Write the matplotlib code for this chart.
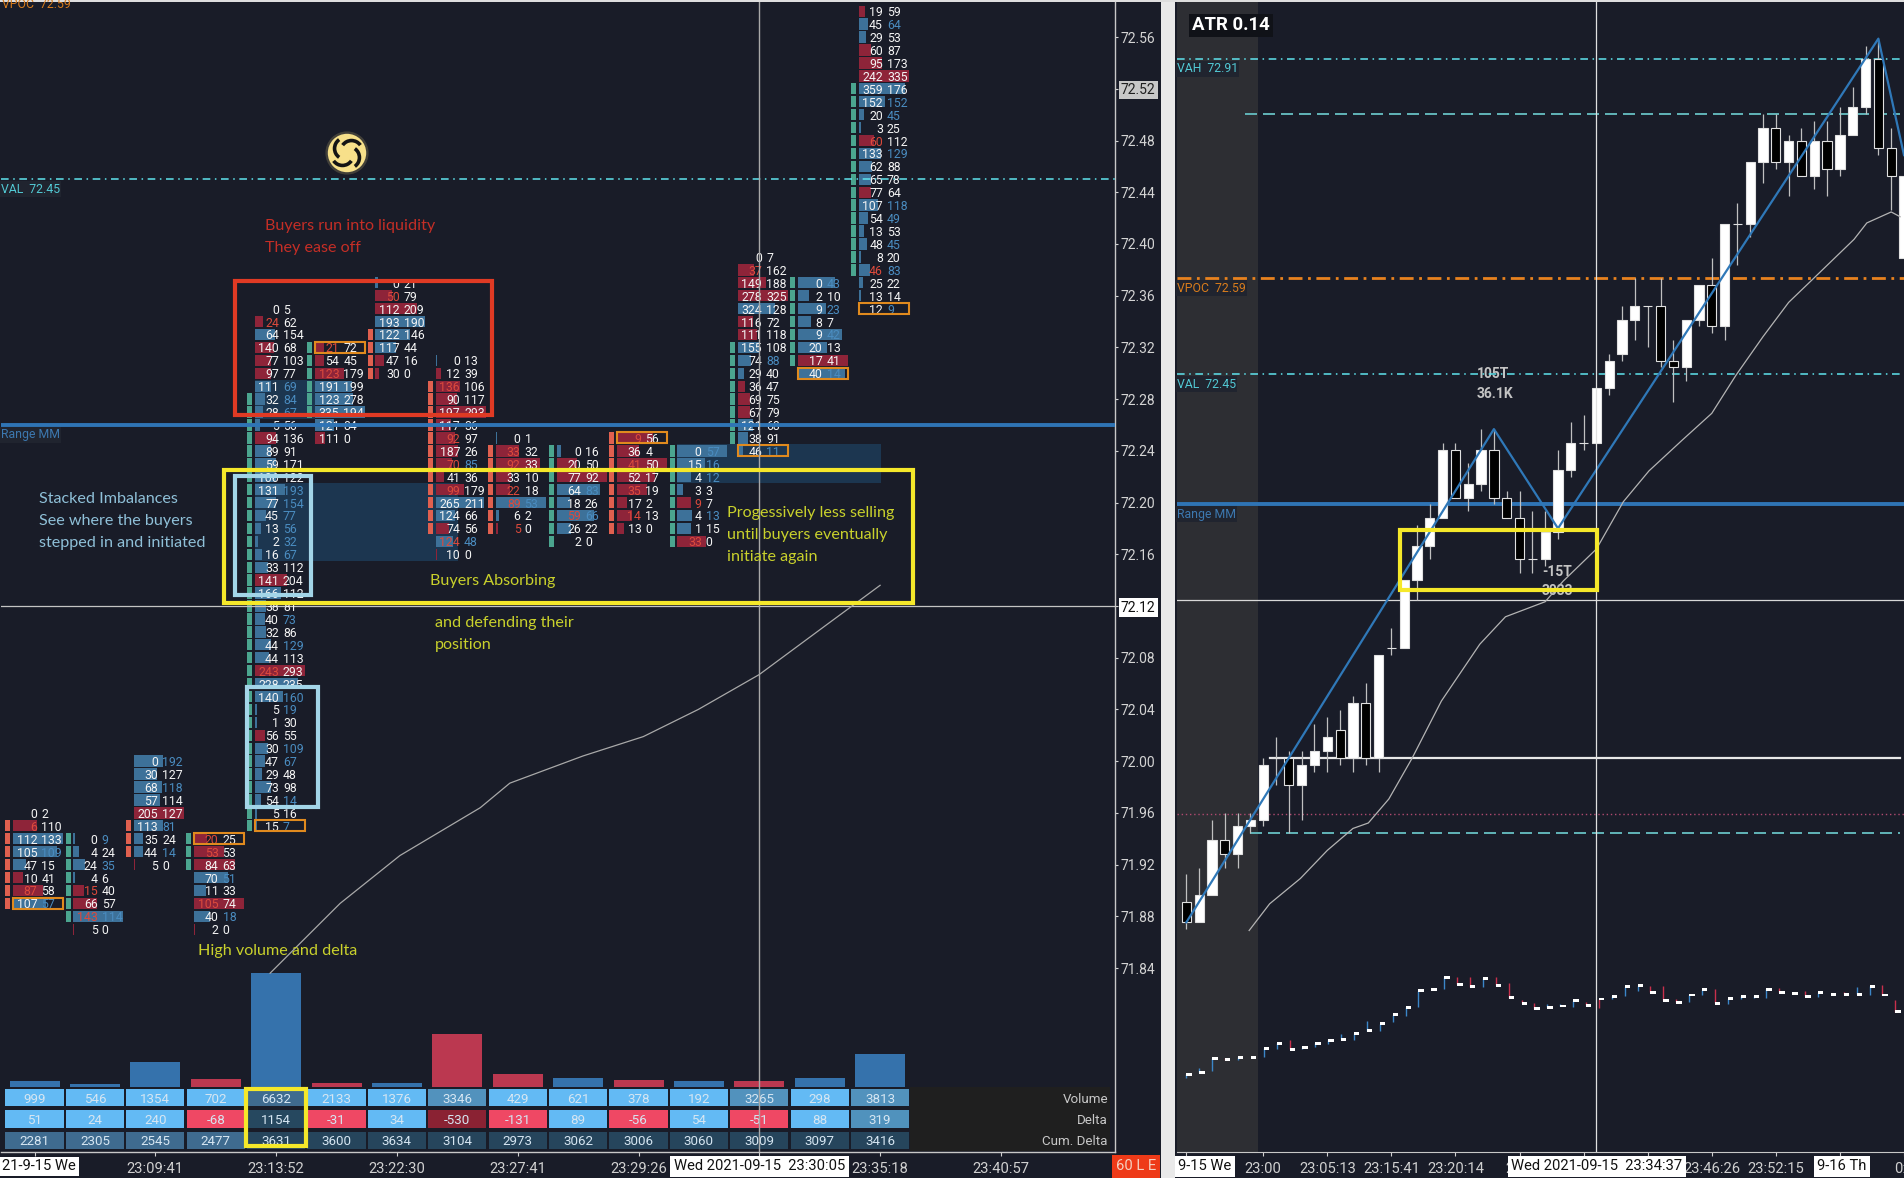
import matplotlib
matplotlib.use("Agg")
import matplotlib.pyplot as plt
from matplotlib.patches import Rectangle, Circle, Arc
from matplotlib.transforms import Affine2D
import math

W, H = 1904, 1178
BG = "#191c28"
BLUE = "#3d7199"
RED = "#8e2439"
TEAL = "#4ba58f"
SALMON = "#e0604f"
YELLOW = "#f5e82a"
NOTE = "#c9d12c"
ORANGE = "#e08a1e"
LIGHT = "#a3d5e8"
CYAN = "#5fe4ee"

# ---- footprint columns (left panel), rows go down one tick from col_top
col_top = [71.96, 71.94, 72.00, 71.94, 72.35, 72.32, 72.37, 72.31, 72.25, 72.24, 72.25, 72.24, 72.39, 72.37, 72.58]
col_bid = [
    [0, 6, 112, 105, 47, 10, 87, 107],
    [0, 4, 24, 4, 15, 66, 143, 5],
    [0, 30, 68, 57, 205, 113, 35, 44, 5],
    [20, 53, 84, 70, 11, 105, 40, 2],
    [0, 24, 64, 140, 77, 97, 111, 32, 28, 5, 94, 89, 59, 106, 131, 77, 45, 13, 2, 16, 33, 141, 166, 38,
     40, 32, 44, 44, 243, 228, 140, 5, 1, 56, 30, 47, 29, 73, 54, 5, 15],
    [21, 54, 123, 191, 123, 335, 121, 111],
    [0, 50, 112, 193, 122, 117, 47, 30],
    [0, 12, 136, 90, 197, 117, 92, 187, 70, 41, 99, 265, 124, 74, 124, 10],
    [0, 33, 92, 33, 22, 89, 6, 5],
    [0, 20, 77, 64, 18, 59, 26, 2],
    [9, 36, 41, 52, 35, 17, 14, 13],
    [0, 15, 4, 3, 9, 4, 1, 33],
    [0, 37, 149, 278, 324, 116, 111, 155, 74, 29, 36, 69, 67, 121, 38, 46],
    [0, 2, 9, 8, 9, 20, 17, 40],
    [19, 45, 29, 60, 95, 242, 359, 152, 20, 3, 60, 133, 62, 65, 77, 107, 54, 13, 48, 8, 46, 25, 13, 12],
]
col_ask = [
    [2, 110, 133, 109, 15, 41, 58, 57],
    [9, 24, 35, 6, 40, 57, 114, 0],
    [192, 127, 118, 114, 127, 81, 24, 14, 0],
    [25, 53, 63, 51, 33, 74, 18, 0],
    [5, 62, 154, 68, 103, 77, 69, 84, 67, 56, 136, 91, 171, 122, 193, 154, 77, 56, 32, 67, 112, 204, 112, 81,
     73, 86, 129, 113, 293, 235, 160, 19, 30, 55, 109, 67, 48, 98, 14, 16, 7],
    [72, 45, 179, 199, 278, 194, 84, 0],
    [21, 79, 209, 190, 146, 44, 16, 0],
    [13, 39, 106, 117, 293, 36, 97, 26, 85, 36, 179, 211, 66, 56, 48, 0],
    [1, 32, 33, 10, 18, 53, 2, 0],
    [16, 50, 92, 83, 26, 66, 22, 0],
    [56, 4, 50, 17, 19, 2, 13, 0],
    [57, 16, 12, 3, 7, 13, 15, 0],
    [7, 162, 188, 325, 128, 72, 118, 108, 88, 40, 47, 75, 79, 68, 91, 11],
    [43, 10, 23, 7, 42, 13, 41, 14],
    [59, 64, 53, 87, 173, 335, 176, 152, 45, 25, 112, 129, 88, 78, 64, 118, 49, 53, 45, 20, 83, 22, 14, 9],
]
col_side = [
    "brbbbrrb", "bbbbrrbr", "bbbbrbbbr", "rrrbbrbr",
    "brbrrrbbbbrbbbbbbbbbbrbbbbbbrbbbbrbbbbbbb",
    "rrrbbbbr", "brrbbbrr", "brrrrrrrrrrbbrbr", "brrrrbbr", "brrbbbbr",
    "rrrrrrrr", "bbbbrbbr", "brrrbrrbbbrrrbbb", "bbbbbbrb", "rbbrrrbbbbrbbbrbbbbbbbbb",
]
col_bid_red = [[1, 6], [4, 6], [], [0, 1, 5], [1, 28], [0, 2], [1], [2, 6, 8, 10, 14], [1, 2, 4, 5, 7], [5],
               [0, 2, 4, 6], [4, 7], [1], [], [10, 20]]
col_ask_blue = [[3, 7], [0, 2, 6], [0, 2, 5, 7], [3, 6], [6, 7, 8, 14, 15, 16, 17, 18, 19, 24, 26, 30, 31, 34, 35, 38, 40],
                [], [], [8, 14], [5], [3, 5], [], [0, 1, 2, 5], [8, 15], [0, 2, 4, 7],
                [1, 7, 8, 11, 15, 16, 18, 20, 23]]
col_box_row = [7, None, None, 0, 40, 0, None, None, None, None, 0, None, 15, 7, 23]
strip_first = [1, 0, 5, 0, 7, 0, 4, 2, 1, 0, 0, 0, 7, 0, 6]
strip_last = [7, 6, 7, 2, 40, 5, 7, 13, 7, 7, 7, 7, 14, 6, 20]
strip_kind = "rtrttt" + "rrrtrtttt"

# ---- bottom of left panel
bar_volume = [330, 160, 1440, 450, 6632, 215, 215, 3090, 780, 545, 390, 330, 330, 545, 1900]
bar_side = "bbbrbrbrrbrbrbb"
table_volume = [999, 546, 1354, 702, 6632, 2133, 1376, 3346, 429, 621, 378, 192, 3265, 298, 3813]
table_delta = [51, 24, 240, -68, 1154, -31, 34, -530, -131, 89, -56, 54, -51, 88, 319]
table_cum = [2281, 2305, 2545, 2477, 3631, 3600, 3634, 3104, 2973, 3062, 3006, 3060, 3009, 3097, 3416]
left_time_pos = [2, 4, 6, 8, 10, 14, 16]
left_time_lbl = ["23:09:41", "23:13:52", "23:22:30", "23:27:41", "23:29:26", "23:35:18", "23:40:57"]
left_price_ticks = [71.84, 71.88, 71.92, 71.96, 72.00, 72.04, 72.08, 72.12, 72.16, 72.20, 72.24, 72.28,
                    72.32, 72.36, 72.40, 72.44, 72.48, 72.52, 72.56]
left_ema_x = [3.90, 5.06, 6.05, 7.38, 7.87, 9.08, 10.08, 10.99, 12.0, 13.1, 14.0]
left_ema_y = [71.836, 71.890, 71.927, 71.964, 71.983, 72.004, 72.019, 72.040, 72.067, 72.105, 72.136]

VAH, VPOC, VAL, RANGE_MM, CROSS_P = 72.91, 72.59, 72.45, 72.26, 72.12

# ---- candles (right panel)
c_open = [71.68, 71.65, 71.69, 71.77, 71.75, 71.79, 71.80, 71.89, 71.89, 71.85, 71.88, 71.90, 71.93, 71.89, 71.97,
          71.89, 72.05, 72.05, 72.15, 72.20, 72.24, 72.34, 72.27, 72.29, 72.34, 72.27, 72.24, 72.18, 72.18, 72.22,
          72.31, 72.35, 72.35, 72.43, 72.48, 72.53, 72.55, 72.55, 72.47, 72.46, 72.53, 72.58, 72.52, 72.67, 72.67,
          72.76, 72.81, 72.76, 72.79, 72.74, 72.79, 72.75, 72.80, 72.84, 72.91, 72.78, 72.62]
c_close = [71.65, 71.69, 71.77, 71.75, 71.79, 71.80, 71.88, 71.89, 71.85, 71.88, 71.90, 71.92, 71.89, 71.97, 71.89,
           72.04, 72.05, 72.15, 72.20, 72.24, 72.34, 72.27, 72.29, 72.34, 72.27, 72.24, 72.18, 72.18, 72.22, 72.31,
           72.35, 72.35, 72.43, 72.47, 72.53, 72.55, 72.55, 72.47, 72.46, 72.53, 72.58, 72.52, 72.67, 72.67, 72.76,
           72.81, 72.76, 72.79, 72.74, 72.79, 72.75, 72.80, 72.84, 72.91, 72.78, 72.74, 72.74]
c_high = [71.72, 71.73, 71.80, 71.81, 71.81, 71.81, 71.89, 71.92, 71.90, 71.90, 71.94, 71.95, 71.96, 71.98, 72.00,
          72.04, 72.08, 72.15, 72.23, 72.26, 72.35, 72.35, 72.32, 72.37, 72.37, 72.28, 72.28, 72.25, 72.25, 72.34,
          72.38, 72.39, 72.43, 72.48, 72.55, 72.59, 72.55, 72.59, 72.50, 72.53, 72.58, 72.62, 72.67, 72.70, 72.76,
          72.83, 72.83, 72.80, 72.81, 72.82, 72.82, 72.84, 72.87, 72.93, 72.94, 72.81, 72.74]
c_low = [71.64, 71.65, 71.69, 71.73, 71.73, 71.78, 71.79, 71.85, 71.78, 71.80, 71.87, 71.87, 71.88, 71.87, 71.88,
         71.87, 72.04, 72.05, 72.12, 72.18, 72.24, 72.27, 72.25, 72.28, 72.26, 72.24, 72.16, 72.16, 72.17, 72.21,
         72.30, 72.34, 72.35, 72.42, 72.47, 72.50, 72.49, 72.46, 72.41, 72.44, 72.52, 72.51, 72.50, 72.61, 72.65,
         72.73, 72.75, 72.71, 72.74, 72.72, 72.71, 72.74, 72.80, 72.83, 72.77, 72.69, 72.62]
zig_x = [0, 24, 29, 54, 56]
zig_y = [71.65, 72.37, 72.225, 72.94, 72.77]
right_ema_x = [4.9, 6.5, 8.9, 11, 13, 14.2, 15.8, 17.6, 19.9, 22.9, 24.9, 28, 29.4, 32, 34.1, 36.1, 38.7, 41, 42.9,
               45, 47, 49, 52.1, 53.1, 55, 55.7]
right_ema_y = [71.638, 71.677, 71.714, 71.755, 71.787, 71.795, 71.83, 71.889, 71.973, 72.056, 72.096, 72.118,
               72.148, 72.195, 72.264, 72.309, 72.354, 72.393, 72.449, 72.505, 72.555, 72.591, 72.647, 72.671,
               72.687, 72.68]
ind_close = [212, 218, 255, 251, 258, 258, 283, 297, 280, 285, 297, 305, 308, 323, 331, 350, 374, 395, 439, 444,
             476, 457, 450, 473, 455, 420, 405, 390, 394, 398, 412, 400, 417, 424, 450, 453, 435, 414, 408, 428,
             442, 405, 418, 424, 425, 443, 435, 432, 424, 434, 430, 430, 430, 452, 428, 382]
ind_open = [202, 230, 220, 257, 250, 258, 258, 280, 304, 280, 286, 295, 322, 305, 357, 330, 354, 372, 395, 444,
            443, 476, 476, 450, 476, 460, 415, 405, 403, 403, 394, 410, 392, 417, 424, 440, 452, 452, 418, 410,
            428, 445, 403, 417, 420, 420, 447, 432, 438, 422, 430, 437, 450, 428, 456, 415]
ind_side = "bbbrbnbbrbbbbbbbbbbnbrrbrrrrbbbrrbbbrrrbbrbbbbrnrbnrbbrr"
right_time_pos = [6, 11, 16, 21, 26, 31, 36, 41, 46, 51, 56]
right_time_lbl = ["23:00", "23:05:13", "23:15:41", "23:20:14", "23:2", "", "", "23:46:26", "23:52:15", "", "0:0"]

plt.rcParams["font.family"] = ["Roboto", "DejaVu Sans"]
fig = plt.figure(figsize=(W / 100, H / 100), dpi=100, facecolor=BG)
px = Affine2D().scale(1, -1).translate(0, H)


def add_ax(x0, y0, x1, y1, z):
    a = fig.add_axes([x0 / W, 1 - y1 / H, (x1 - x0) / W, (y1 - y0) / H], zorder=z)
    a.set_facecolor("none")
    for s in a.spines.values():
        s.set_visible(False)
    a.set_xticks([])
    a.set_yticks([])
    return a


def box(a, x0, x1, y0, y1, color, lw=3.0, z=8):
    a.add_patch(Rectangle((x0, y0), x1 - x0, y1 - y0, fill=False, ec=color, lw=lw, zorder=z, clip_on=False))


def note(a, x, y, s, color, size=11.6):
    a.text(x, y, s, color=color, fontsize=size, family="Lato", va="center", ha="left", transform=px, zorder=9)


def level_label(a, x, p, s, color):
    a.annotate(s, (x, p), xytext=(0, -7), textcoords="offset points", color=color, fontsize=8.8, va="center",
               bbox=dict(fc="#20242f", ec="none", pad=1), zorder=6, annotation_clip=False)


# ---- left panel axes
ax = add_ax(1, 2, 1115, 1152, 4)
ax.set_xlim((1 - 34.5) / 60.4, (1115 - 34.5) / 60.4)
ax.set_ylim(CROSS_P + (606 - 1152) / 1293, CROSS_P + (606 - 2) / 1293)
ax_vol = add_ax(1, 960, 1115, 1087, 2)
ax_vol.set_xlim(ax.get_xlim())
ax_vol.set_ylim(0, 7404)
ax_tbl = add_ax(1, 1087, 1115, 1151, 3)
ax_tbl.set_xlim(ax.get_xlim())
ax_tbl.set_ylim(3, 0)

tick = 0.01
unit = 1 / 60.4
# imbalance zones behind the footprint
ax.add_patch(Rectangle((3.65, 72.155), 3.36, 0.06, color="#1c3650", lw=0, zorder=1))
ax.add_patch(Rectangle((3.65, 72.265), 1.0, 0.03, color="#1c3650", lw=0, zorder=1))
ax.add_patch(Rectangle((10.64, 72.215), 3.37, 0.03, color="#1c3650", lw=0, zorder=1))

for c, top in enumerate(col_top):
    bids, asks = col_bid[c], col_ask[c]
    prices = [round(top - r * tick, 2) for r in range(len(bids))]
    totals = [b + a for b, a in zip(bids, asks)]
    widths = [50 * unit * t / max(totals) for t in totals]
    colors = [BLUE if s == "b" else RED for s in col_side[c]]
    ax.barh(prices, widths, left=c - 21.5 * unit, height=0.0088, color=colors, zorder=2)
    for r, p in enumerate(prices):
        bc = "#dc4a3c" if r in col_bid_red[c] else "#f4f4f4"
        ac = "#4a8cc0" if r in col_ask_blue[c] else "#f4f4f4"
        ax.text(c + 2.8 * unit, p, str(bids[r]), color=bc, fontsize=8.8, ha="right", va="center_baseline", zorder=3, clip_on=True)
        ax.text(c + 6.8 * unit, p, str(asks[r]), color=ac, fontsize=8.8, ha="left", va="center_baseline", zorder=3, clip_on=True)
    sp = prices[strip_first[c]:strip_last[c] + 1]
    ax.barh(sp, [5 * unit] * len(sp), left=c - 29.4 * unit, height=0.0088,
            color=TEAL if strip_kind[c] == "t" else SALMON, zorder=2)
    if col_box_row[c] is not None:
        p = prices[col_box_row[c]]
        box(ax, c - 21.5 * unit, c + 28.5 * unit, p - 0.0042, p + 0.0042, ORANGE, lw=1.5, z=4)

# levels and crosshair
ax.axhline(VAL, color=CYAN, lw=1.1, ls=(0, (5, 3, 1, 3)), zorder=4)
ax.axhline(RANGE_MM, color="#2f74b5", lw=2.8, zorder=4)
ax.axhline(CROSS_P, color="#c4c4c4", lw=0.9, zorder=2)
ax.axvline(12, color="#a8a8a8", lw=1, zorder=5)
ax.plot(left_ema_x, left_ema_y, color="#a9a9a9", lw=0.9, zorder=3)
level_label(ax, ax.get_xlim()[0], VAL, "VAL  72.45", "#52c9d4")
level_label(ax, ax.get_xlim()[0], RANGE_MM, "Range MM", "#3c78b0")
ax.text(2, 5, "VPOC  72.59", color="#d87c1c", fontsize=8.8, va="center", transform=px, zorder=6)

# hand drawn boxes
box(ax, 3.314, 7.575, 72.268, 72.371, "#e03a24")
box(ax, 3.14, 14.55, 72.1226, 72.225, YELLOW)
box(ax, 3.325, 4.573, 72.1287, 72.2205, LIGHT)
box(ax, 3.513, 4.70, 71.9643, 72.0576, LIGHT)

note(ax, 265, 226, "Buyers run into liquidity", "#c42e26")
note(ax, 265, 248, "They ease off", "#c42e26")
for y, s in zip([499, 521, 543], ["Stacked Imbalances", "See where the buyers", "stepped in and initiated"]):
    note(ax, 39, y, s, "#8fc0d8")
note(ax, 430, 581, "Buyers Absorbing", NOTE)
note(ax, 435, 623, "and defending their", NOTE)
note(ax, 435, 645, "position", NOTE)
for y, s in zip([513.5, 535, 557], ["Progessively less selling", "until buyers eventually", "initiate again"]):
    note(ax, 727, y, s, NOTE)
note(ax, 198, 951, "High volume and delta", NOTE)

# logo
ax_logo = add_ax(323, 129, 371, 177, 6)
ax_logo.set_xlim(-1, 1)
ax_logo.set_ylim(-1, 1)
ax_logo.add_patch(Circle((0, 0), 0.9, color="#f7e08a", alpha=0.18, lw=0))
ax_logo.add_patch(Circle((0, 0), 0.8, color="#f7e08a", lw=0))
for ang in [20, 110, 200, 290]:
    cx = 0.2 * math.cos(math.radians(ang))
    cy = 0.2 * math.sin(math.radians(ang))
    ax_logo.add_patch(Arc((cx, cy), 0.9, 0.9, angle=ang, theta1=15, theta2=125, color="#141414", lw=2.6))

# volume bars and table
ax_vol.bar(range(15), bar_volume, width=50 * unit, color=["#3572ac" if s == "b" else "#bb3850" for s in bar_side])
ax_tbl.add_patch(Rectangle((14.5, 0), 3.3, 3, color="#1f1f1f", lw=0))


def vol_color(v):
    return "#3f6b8f" if v >= 5000 else "#5292bd" if v >= 3000 else "#63baf4"


def delta_color(v):
    if v >= 1000:
        return "#26485f"
    if v >= 300:
        return "#5092bd"
    if v <= -300:
        return "#8a2233"
    return "#63baf4" if v >= 0 else "#ef4864"


def cum_color(v):
    return "#3f6b8f" if v < 2900 else "#26455c"


for r, (vals, fn) in enumerate([(table_volume, vol_color), (table_delta, delta_color), (table_cum, cum_color)]):
    ax_tbl.bar(range(15), [0.82] * 15, bottom=r + 0.09, width=58.3 * unit, color=[fn(v) for v in vals])
    for c, v in enumerate(vals):
        ax_tbl.text(c, r + 0.5, str(v), color="#d6e6f2", fontsize=9.6, ha="center", va="center_baseline")
for r, s in enumerate(["Volume", "Delta", "Cum. Delta"]):
    ax_tbl.text(1108, 1099.5 + r * 21, s, color="#c8c8c8", fontsize=9.6, ha="right", va="center", transform=px)
box(ax_tbl, 3.497, 4.495, 0.09, 2.75, YELLOW)

# left axis ticks
ax.yaxis.tick_right()
ax.set_yticks(left_price_ticks)
ax.set_yticklabels([f"{v:.2f}" for v in left_price_ticks])
ax.tick_params(axis="y", colors="#d4d4d4", length=2.2, pad=2, labelsize=10, width=0.8)
for t, v in zip(ax.yaxis.get_major_ticks(), left_price_ticks):
    if abs(v - 72.12) < 1e-6:
        t.label2.set_color("#101010")
        t.label2.set_bbox(dict(fc="white", ec="none", pad=1.5))
    if abs(v - 72.52) < 1e-6:
        t.label2.set_color("#202020")
        t.label2.set_bbox(dict(fc="#c8c8c8", ec="none", pad=1.5))
ax.set_xticks([0] + left_time_pos + [12])
ax.set_xticklabels([""] + left_time_lbl + [""])
ax.tick_params(axis="x", colors="#d0d0d0", length=3, pad=4, labelsize=10.6, width=0.8, color="#d0d0d0")
for side in ["right", "bottom"]:
    ax.spines[side].set_visible(True)
    ax.spines[side].set_color("#c8c8c8")
    ax.spines[side].set_linewidth(1.0)
ax.text(2, 1166.5, "21-9-15 We", color="#101010", fontsize=10.6, va="center", ha="left", transform=px,
        bbox=dict(fc="white", ec="none", pad=2), zorder=9)
ax.text(759.5, 1166.5, "Wed 2021-09-15  23:30:05", color="#101010", fontsize=10.6, va="center", ha="center", transform=px,
        bbox=dict(fc="white", ec="none", pad=2.5), zorder=9)
ax.text(1136, 1166.5, "60 L E", color="#f5d0c0", fontsize=10.6, va="center", ha="center", transform=px,
        bbox=dict(fc="#ee3a18", ec="none", pad=3), zorder=9)

# panel separators and top edge
fig.add_artist(Rectangle((1161, 0), 14, H, color="#e9e9e9", lw=0, transform=px))
fig.add_artist(Rectangle((0, 0), W, 2, color="#dedede", lw=0, transform=px))

# ---- right panel axes
rx0 = 1177
ax_r = add_ax(rx0, 2, W, 1152, 4)
ax_r.set_xlim((rx0 - 1186.4) / 12.89, (W - 1186.4) / 12.89)
ax_r.set_ylim(VAL - (1152 - 374.3) / 685, VAL + (374.3 - 2) / 685)
ax_ind = add_ax(rx0, 930, W, 1151, 2)
ax_ind.set_xlim(ax_r.get_xlim())
ax_ind.set_ylim(3, 605)
ax_bg = add_ax(rx0, 2, W, 1152, 1)
ax_bg.set_xlim(ax_r.get_xlim())
ax_bg.axvspan(ax_r.get_xlim()[0], 5.52, color="#2d2e33", lw=0)

xr1 = ax_r.get_xlim()[1]
ax_r.axhline(VAH, color=CYAN, lw=1.1, ls=(0, (5, 3, 1, 3)), zorder=2)
ax_r.axhline(VAL, color=CYAN, lw=1.1, ls=(0, (5, 3, 1, 3)), zorder=2)
ax_r.axhline(VPOC, color="#e8821e", lw=2, ls=(0, (5, 2, 1, 2)), zorder=2)
ax_r.axhline(RANGE_MM, color="#2f74b5", lw=2.8, zorder=2)
ax_r.axhline(CROSS_P, color="#d8d8d8", lw=0.9, zorder=2)
ax_r.plot([4.55, xr1], [72.83, 72.83], color="#5fb0b4", lw=1.44, ls=(0, (6, 3)), zorder=2)
ax_r.plot([4.97, xr1], [71.78, 71.78], color="#5fb0b4", lw=1.44, ls=(0, (6, 3)), zorder=2)
ax_r.plot([6.54, xr1], [71.89, 71.89], color="#e8e8e8", lw=1.6, zorder=2)
ax_r.axhline(71.808, color="#b04a70", lw=1, ls=(0, (1, 2)), zorder=2)
ax_r.axvline(32, color="#e0e0e0", lw=0.9, zorder=6)

xs = list(range(len(c_open)))
ax_r.vlines(xs, c_low, c_high, color="#c0c0c0", lw=0.9, zorder=3)
bot = [min(o, c) for o, c in zip(c_open, c_close)]
hgt = [abs(o - c) for o, c in zip(c_open, c_close)]
fill = ["white" if c >= o else "black" for o, c in zip(c_open, c_close)]
ax_r.bar(xs, hgt, bottom=bot, width=0.72, color=fill, edgecolor="#e0e0e0", lw=0.8, zorder=3)
ax_r.plot(zig_x, zig_y, color="#2f78b8", lw=1.6, zorder=4)
ax_r.plot(right_ema_x, right_ema_y, color="#b4b4b4", lw=0.9, zorder=4)

ind_x = list(range(len(ind_close)))
ind_colors = {"b": "#3b86c8", "r": "#c8304c", "n": BG}
ax_ind.vlines(ind_x, ind_open, ind_close, color=[ind_colors[s] for s in ind_side], lw=1)
ax_ind.barh(ind_close, [0.42] * len(ind_x), left=ind_x, height=8, color="white", zorder=3)

ax_r.text(1192, 25.5, "ATR 0.14", color="white", fontsize=13.4, fontweight="bold", va="center", transform=px,
          bbox=dict(fc="#101218", ec="none", pad=2), zorder=9)
level_label(ax_r, ax_r.get_xlim()[0], VAH, "VAH  72.91", "#52c9d4")
level_label(ax_r, ax_r.get_xlim()[0], VPOC, "VPOC  72.59", "#d87c1c")
level_label(ax_r, ax_r.get_xlim()[0], VAL, "VAL  72.45", "#52c9d4")
level_label(ax_r, ax_r.get_xlim()[0], RANGE_MM, "Range MM", "#3c78b0")
for x, y, s in [(1493, 374, "105T"), (1495, 394, "36.1K"), (1557, 572, "-15T"), (1557, 591, "3033")]:
    ax_r.text(x, y, s, color="#c4c4c4", fontsize=10, fontweight="bold", ha="center", va="center", transform=px, zorder=1)
box(ax_r, 16.7, 32.07, 72.1344, 72.2227, YELLOW)

ax_r.set_xticks(right_time_pos + [0])
ax_r.set_xticklabels(right_time_lbl + [""])
ax_r.tick_params(axis="x", colors="#d0d0d0", length=3, pad=4, labelsize=10.6, width=0.8)
ax_r.spines["bottom"].set_visible(True)
ax_r.spines["bottom"].set_color("#c8c8c8")
for x, s in [(1205, "9-15 We"), (1597, "Wed 2021-09-15  23:34:37"), (1842, "9-16 Th")]:
    ax_r.text(x, 1166.5, s, color="#101010", fontsize=10.6, va="center", ha="center", transform=px,
              bbox=dict(fc="white", ec="none", pad=2.5), zorder=9)

fig.savefig("out.png", dpi=100, facecolor=BG)
